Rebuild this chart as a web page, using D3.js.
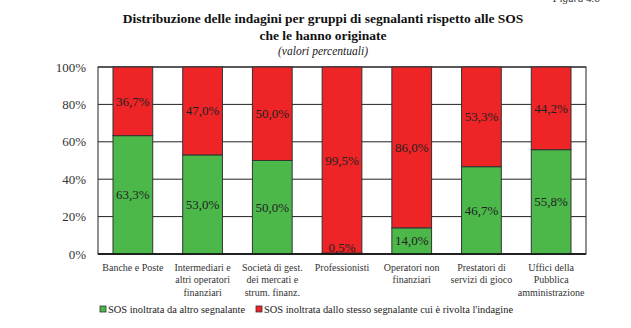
<!DOCTYPE html>
<html>
<head>
<meta charset="utf-8">
<script src="https://cdn.jsdelivr.net/npm/d3@7"></script>
<style>
    body { margin: 0; background: #fff; }
    svg { display: block; font-family: "Liberation Serif", "DejaVu Serif", serif; }
</style>
</head>
<body>
<div id="chart"></div>
<script>
    const categories = [
        ["Banche e Poste"],
        ["Intermediari e", "altri operatori", "finanziari"],
        ["Società di gest.", "dei mercati e", "strum. finanz."],
        ["Professionisti"],
        ["Operatori non", "finanziari"],
        ["Prestatori di", "servizi di gioco"],
        ["Uffici della", "Pubblica", "amministrazione"]
    ];
    const altroSegnalante = [63.3, 53.0, 50.0, 0.5, 14.0, 46.7, 55.8];
    const stessoSegnalante = [36.7, 47.0, 50.0, 99.5, 86.0, 53.3, 44.2];
    const yTicks = [0, 20, 40, 60, 80, 100];
    const seriesNames = ["SOS inoltrata da altro segnalante", "SOS inoltrata dallo stesso segnalante cui è rivolta l'indagine"];
    const colors = ["#4cb84a", "#ee2427"];

    const W = 631, H = 328;
    const margin = { top: 67, right: 45, bottom: 74, left: 98 };
    const width = W - margin.left - margin.right;
    const height = H - margin.top - margin.bottom;

    const root = d3.select("#chart").append("svg")
        .attr("width", W)
        .attr("height", H);

    // titolo
    root.append("text").attr("x", 600).attr("y", 2).attr("text-anchor", "end")
        .attr("font-size", 11).attr("font-style", "italic").attr("fill", "#333")
        .text("Figura 4.6");
    root.append("text").attr("x", 323).attr("y", 23).attr("text-anchor", "middle")
        .attr("font-size", 13.5).attr("font-weight", "bold").attr("fill", "#111")
        .text("Distribuzione delle indagini per gruppi di segnalanti rispetto alle SOS");
    root.append("text").attr("x", 323).attr("y", 40).attr("text-anchor", "middle")
        .attr("font-size", 13.5).attr("font-weight", "bold").attr("fill", "#111")
        .text("che le hanno originate");
    root.append("text").attr("x", 323).attr("y", 55).attr("text-anchor", "middle")
        .attr("font-size", 11.5).attr("font-style", "italic").attr("fill", "#222")
        .text("(valori percentuali)");

    const svg = root.append("g")
        .attr("transform", `translate(${margin.left},${margin.top})`);

    const x = d3.scaleBand()
        .domain(d3.range(categories.length))
        .range([0, width])
        .paddingInner(0.43)
        .paddingOuter(0.215);

    const y = d3.scaleLinear()
        .domain([0, 100])
        .range([height, 0]);

    // griglia
    svg.append("g")
        .selectAll("line")
        .data(yTicks)
        .enter().append("line")
        .attr("x1", 0).attr("x2", width)
        .attr("y1", d => y(d)).attr("y2", d => y(d))
        .attr("stroke", "#222").attr("stroke-width", 1);
    svg.append("rect")
        .attr("x", 0).attr("y", 0).attr("width", width).attr("height", height)
        .attr("fill", "none").attr("stroke", "#222").attr("stroke-width", 1);

    const stacked = categories.map((c, i) => ({
        i: i,
        segs: [
            { s: 0, y0: 0, y1: altroSegnalante[i], v: altroSegnalante[i] },
            { s: 1, y0: altroSegnalante[i], y1: altroSegnalante[i] + stessoSegnalante[i], v: stessoSegnalante[i] }
        ]
    }));

    const groups = svg.selectAll(".bar")
        .data(stacked)
        .enter().append("g")
        .attr("class", "bar");

    groups.selectAll("rect")
        .data(d => d.segs.map(s => ({ ...s, i: d.i })))
        .enter().append("rect")
        .attr("x", d => x(d.i))
        .attr("y", d => y(Math.min(d.y1, 100)))
        .attr("width", x.bandwidth())
        .attr("height", d => y(d.y0) - y(Math.min(d.y1, 100)))
        .attr("fill", d => colors[d.s])
        .attr("stroke", "#333")
        .attr("stroke-width", 1);

    groups.selectAll("text")
        .data(d => d.segs.map(s => ({ ...s, i: d.i })))
        .enter().append("text")
        .attr("x", d => x(d.i) + x.bandwidth() / 2)
        .attr("y", d => Math.min(y((d.y0 + d.y1) / 2), height - 7))
        .attr("dy", "0.35em")
        .attr("text-anchor", "middle")
        .attr("font-size", 13)
        .attr("fill", "#222")
        .text(d => d.v.toFixed(1).replace(".", ",") + "%");

    // asse y
    const yAxis = svg.append("g")
        .call(d3.axisLeft(y).tickValues(yTicks).tickSize(0).tickPadding(12).tickFormat(d => d + "%"));
    yAxis.select(".domain").remove();
    yAxis.selectAll("text").attr("font-size", 13).attr("font-family", "Liberation Serif").attr("fill", "#333");

    // asse x
    svg.append("line")
        .attr("x1", 0).attr("x2", width).attr("y1", height).attr("y2", height)
        .attr("stroke", "#111").attr("stroke-width", 1.6);

    const xAxis = svg.append("g")
        .attr("transform", `translate(0,${height})`)
        .call(d3.axisBottom(x).tickSize(0).tickFormat(""));
    xAxis.select(".domain").remove();
    xAxis.selectAll(".tick text").remove();
    xAxis.selectAll(".tick").append("text")
        .attr("fill", "#333")
        .attr("font-size", 10)
        .attr("font-family", "Liberation Serif")
        .attr("text-anchor", "middle")
        .selectAll("tspan")
        .data(i => categories[i])
        .enter().append("tspan")
        .attr("x", 0)
        .attr("y", (d, k) => 17 + k * 12.3)
        .text(d => d);

    // legenda
    const legend = root.append("g").attr("transform", "translate(100,313)");
    const lx = [0, 156];
    seriesNames.forEach((name, k) => {
        const g = legend.append("g").attr("transform", `translate(${lx[k]},0)`);
        g.append("rect").attr("x", 0).attr("y", -7).attr("width", 6).attr("height", 6)
            .attr("fill", colors[k]).attr("stroke", "#333").attr("stroke-width", 0.8);
        g.append("text").attr("x", 8).attr("y", 0)
            .attr("font-size", 11)
            .attr("textLength", k === 0 ? 137 : 249)
            .attr("lengthAdjust", "spacingAndGlyphs")
            .attr("fill", "#222")
            .text(name);
    });
</script>
</body>
</html>
